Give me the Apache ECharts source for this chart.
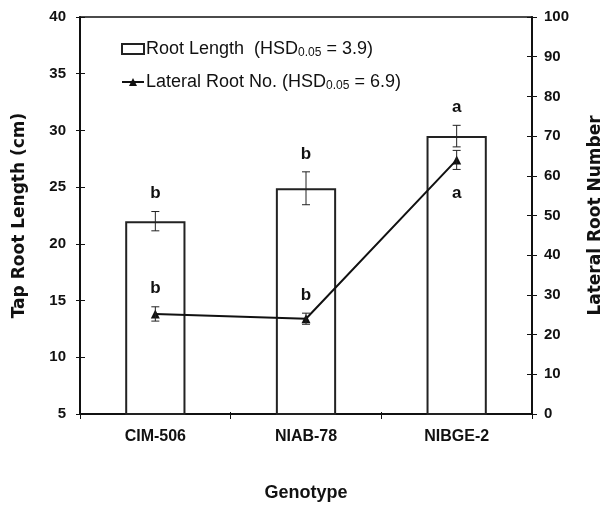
<!DOCTYPE html>
<html>
<head>
<meta charset="utf-8">
<script src="https://cdn.jsdelivr.net/npm/echarts@6/dist/echarts.min.js"></script>
<style>
  html, body { margin: 0; padding: 0; background: #fff; }
  #chart { width: 611px; height: 505px; }
</style>
</head>
<body>
<div id="chart"></div>
<script>
var genotypes = ['CIM-506', 'NIAB-78', 'NIBGE-2']
var rootLength = [22.0, 24.9, 29.5]
var rootLengthErr = [0.85, 1.45, 0.95]
var rootLengthLetters = ['b', 'b', 'a']
var lateralRoots = [25.2, 24.0, 64.0]
var lateralRootsErr = [1.8, 1.4, 2.4]
var lateralLetters = ['b', 'b', 'a']
var lateralLetterBelow = [false, false, true]
var leftTicks = [5, 40, 5]     // min, max, interval
var rightTicks = [0, 100, 10]

var chart = echarts.init(document.getElementById('chart'))
var font = '"Liberation Sans", Arial, sans-serif'

// error bars drawn with the axis scales
function errorBars (values, errs, axisIdx) {
  return {
    type: 'custom',
    yAxisIndex: axisIdx,
    silent: true,
    z: 5,
    data: values.map(function (v, i) { return [i, v - errs[i], v + errs[i]] }),
    renderItem: function (params, api) {
      var lo = api.coord([api.value(0), api.value(1)])
      var hi = api.coord([api.value(0), api.value(2)])
      var cap = 4
      var st = { stroke: '#222', lineWidth: 1 }
      return {
        type: 'group',
        children: [
          { type: 'line', shape: { x1: lo[0], y1: lo[1], x2: hi[0], y2: hi[1] }, style: st },
          { type: 'line', shape: { x1: lo[0] - cap, y1: lo[1], x2: lo[0] + cap, y2: lo[1] }, style: st },
          { type: 'line', shape: { x1: hi[0] - cap, y1: hi[1], x2: hi[0] + cap, y2: hi[1] }, style: st }
        ]
      }
    }
  }
}

// significance letters
function letters (values, errs, txt, below, axisIdx) {
  return {
    type: 'custom',
    yAxisIndex: axisIdx,
    silent: true,
    z: 6,
    data: values.map(function (v, i) { return [i, v, errs[i]] }),
    renderItem: function (params, api) {
      var i = params.dataIndex
      var down = below[i]
      var p = api.coord([api.value(0), down ? api.value(1) - api.value(2) : api.value(1) + api.value(2)])
      return {
        type: 'text',
        style: {
          text: txt[i],
          x: p[0],
          y: down ? p[1] + 24 : p[1] - 18,
          align: 'center',
          verticalAlign: 'middle',
          font: 'bold 17px ' + font,
          fill: '#111'
        }
      }
    }
  }
}

var tickLabel = { fontWeight: 'bold', fontSize: 15, color: '#111' }
var axisName = { fontWeight: 'bold', fontSize: 17, color: '#111', fontFamily: '"DejaVu Sans", sans-serif' }

var option = {
  animation: false,
  textStyle: { fontFamily: font },
  grid: {
    left: 80, right: 79, top: 17, bottom: 91,
    outerBoundsMode: 'none',
    show: true, borderColor: '#111', borderWidth: 1.5, backgroundColor: 'transparent'
  },
  legend: {
    orient: 'vertical',
    left: 121,
    top: 40,
    padding: 0,
    itemWidth: 22,
    itemHeight: 10,
    itemGap: 14,
    data: [
      { name: 'Root Length', icon: 'rect' },
      { name: 'Lateral Root No.' }
    ],
    formatter: function (name) {
      if (name === 'Root Length') return 'Root Length  (HSD{sub|0.05}{t| = 3.9)}'
      return 'Lateral Root No. (HSD{sub|0.05}{t| = 6.9)}'
    },
    textStyle: {
      fontSize: 18,
      color: '#111',
      padding: [0, 0, 0, -3],
      rich: {
        sub: { fontSize: 12, color: '#111', padding: [8, 0, 0, 0] },
        t: { fontSize: 18, color: '#111' }
      }
    }
  },
  xAxis: [
    {
      type: 'category',
      data: genotypes,
      name: 'Genotype',
      nameLocation: 'middle',
      nameGap: 70,
      nameTextStyle: { fontWeight: 'bold', fontSize: 18, color: '#111' },
      axisLine: { lineStyle: { color: '#111', width: 2 } },
      axisTick: { show: true, length: 5, lineStyle: { color: '#111' } },
      axisLabel: Object.assign({ margin: 15 }, tickLabel, { fontSize: 16 })
    },
    {
      type: 'category',
      data: genotypes,
      position: 'bottom',
      axisLine: { show: false },
      axisTick: { show: true, inside: true, length: 2, lineStyle: { color: '#111' } },
      axisLabel: { show: false }
    }
  ],
  yAxis: [
    {
      type: 'value',
      min: leftTicks[0], max: leftTicks[1], interval: leftTicks[2],
      name: 'Tap Root Length (cm)',
      nameLocation: 'middle',
      nameGap: 52,
      nameTextStyle: axisName,
      axisLine: { show: true, lineStyle: { color: '#111', width: 2 } },
      axisTick: { show: true, length: 4, lineStyle: { color: '#111' } },
      axisLabel: Object.assign({ margin: 14 }, tickLabel),
      splitLine: { show: false }
    },
    {
      type: 'value',
      min: rightTicks[0], max: rightTicks[1], interval: rightTicks[2],
      name: 'Lateral Root Number',
      nameLocation: 'middle',
      nameGap: 55,
      nameRotate: 90,
      nameTextStyle: axisName,
      axisLine: { show: true, lineStyle: { color: '#111', width: 2 } },
      axisTick: { show: true, length: 5, lineStyle: { color: '#111' } },
      axisLabel: Object.assign({ margin: 12 }, tickLabel),
      splitLine: { show: false }
    },
    {
      type: 'value',
      position: 'left',
      min: leftTicks[0], max: leftTicks[1], interval: leftTicks[2],
      axisLine: { show: false },
      axisTick: { show: true, inside: true, length: 5, lineStyle: { color: '#111' } },
      axisLabel: { show: false },
      splitLine: { show: false }
    },
    {
      type: 'value',
      position: 'right',
      min: rightTicks[0], max: rightTicks[1], interval: rightTicks[2],
      axisLine: { show: false },
      axisTick: { show: true, inside: true, length: 5, lineStyle: { color: '#111' } },
      axisLabel: { show: false },
      splitLine: { show: false }
    }
  ],
  series: [
    {
      name: 'Root Length',
      type: 'bar',
      barWidth: '40%',
      yAxisIndex: 0,
      itemStyle: { color: '#fff', borderColor: '#222', borderWidth: 2 },
      data: rootLength
    },
    {
      name: 'Lateral Root No.',
      type: 'line',
      yAxisIndex: 1,
      symbol: 'triangle',
      symbolSize: 9,
      z: 4,
      lineStyle: { color: '#111', width: 2 },
      itemStyle: { color: '#111' },
      data: lateralRoots
    },
    errorBars(rootLength, rootLengthErr, 0),
    errorBars(lateralRoots, lateralRootsErr, 1),
    letters(rootLength, rootLengthErr, rootLengthLetters, [false, false, false], 0),
    letters(lateralRoots, lateralRootsErr, lateralLetters, lateralLetterBelow, 1)
  ]
}
chart.setOption(option)
</script>
</body>
</html>
